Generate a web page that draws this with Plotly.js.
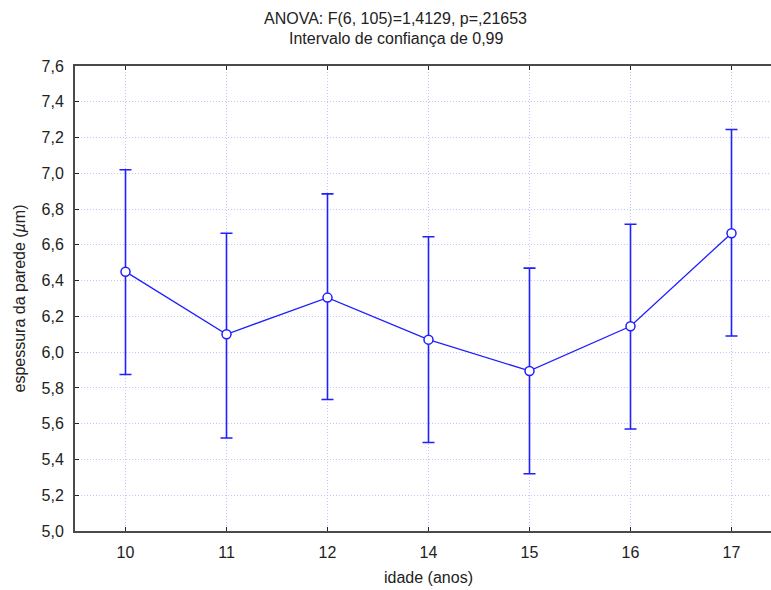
<!DOCTYPE html>
<html>
<head>
<meta charset="utf-8">
<script src="https://cdn.plot.ly/plotly-3.0.1.min.js"></script>
<style>
  html, body { margin: 0; padding: 0; overflow: hidden; background: #fff; }
  #chart { width: 782px; height: 590px; }
</style>
</head>
<body>
<div id="chart"></div>
<script>
// Wall thickness by age: group means with 0.99 confidence intervals
const ages = ['10', '11', '12', '14', '15', '16', '17'];
const means = [6.45, 6.10, 6.305, 6.07, 5.895, 6.145, 6.665];
const ciUpper = [7.02, 6.665, 6.885, 6.645, 6.47, 6.715, 7.245];
const ciLower = [5.875, 5.52, 5.735, 5.495, 5.32, 5.57, 6.09];
const yTicks = [5.0, 5.2, 5.4, 5.6, 5.8, 6.0, 6.2, 6.4, 6.6, 6.8, 7.0, 7.2, 7.4, 7.6];

const errUp = means.map((m, i) => ciUpper[i] - m);
const errDown = means.map((m, i) => m - ciLower[i]);

const blue = '#1f1fff';
const font = 'Liberation Sans, Arial, sans-serif';

const trace = {
  type: 'scatter',
  mode: 'lines+markers',
  x: ages,
  y: means,
  line: { color: blue, width: 1.3 },
  marker: { symbol: 'circle', size: 9, color: '#ffffff', line: { color: blue, width: 1.5 } },
  error_y: {
    type: 'data',
    symmetric: false,
    array: errUp,
    arrayminus: errDown,
    color: blue,
    thickness: 1.6,
    width: 6
  },
  hoverinfo: 'skip'
};

const axisCommon = {
  showline: true,
  linecolor: '#4a4a4a',
  linewidth: 2,
  ticks: 'inside',
  ticklen: 4,
  tickwidth: 1,
  tickcolor: '#222',
  mirror: 'ticks',
  showgrid: true,
  gridcolor: '#c4c4ff',
  griddash: '1px,2px',
  gridwidth: 1,
  zeroline: false,
  tickfont: { family: font, size: 16, color: '#222' }
};

const layout = {
  width: 782,
  height: 590,
  margin: { l: 75, r: 0, t: 66, b: 59 },
  paper_bgcolor: '#ffffff',
  plot_bgcolor: '#ffffff',
  showlegend: false,
  separators: ',.',
  font: { family: font, color: '#222' },
  xaxis: Object.assign({}, axisCommon, {
    type: 'category',
    range: [-0.5, 6.5],
    ticklabelstandoff: 6,
    title: { text: 'idade (anos)', font: { family: font, size: 16, color: '#222' }, standoff: 12 }
  }),
  yaxis: Object.assign({}, axisCommon, {
    range: [5.0, 7.6],
    tickvals: yTicks,
    tickformat: '.1f',
    ticklabelstandoff: 6,
    title: { text: 'espessura da parede (<i>µ</i>m)', font: { family: font, size: 16, color: '#222' }, standoff: 12 }
  }),
  annotations: [
    {
      text: 'ANOVA: F(6, 105)=1,4129, p=,21653',
      xref: 'paper', yref: 'paper', x: 0.454, y: 1.1032,
      xanchor: 'center', yanchor: 'middle', showarrow: false,
      font: { family: font, size: 16, color: '#222' }
    },
    {
      text: 'Intervalo de confiança de 0,99',
      xref: 'paper', yref: 'paper', x: 0.454, y: 1.0602,
      xanchor: 'center', yanchor: 'middle', showarrow: false,
      font: { family: font, size: 16, color: '#222' }
    }
  ]
};

Plotly.newPlot('chart', [trace], layout, { displayModeBar: false, staticPlot: true });
</script>
</body>
</html>
